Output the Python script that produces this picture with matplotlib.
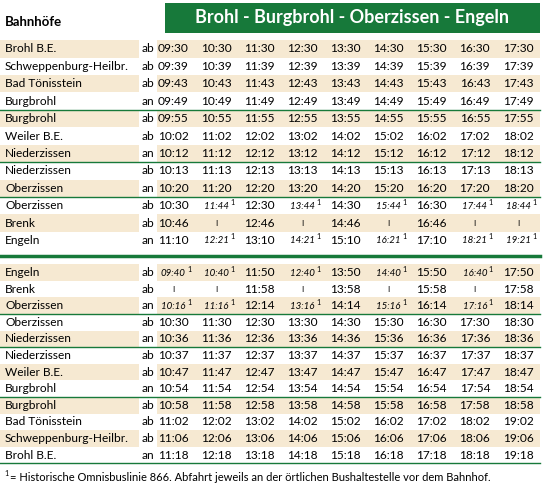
import matplotlib
matplotlib.use("Agg")
import matplotlib.pyplot as plt
from matplotlib.patches import Rectangle

title = "Brohl - Burgbrohl - Oberzissen - Engeln"
header = "Bahnhöfe"
footnote = "= Historische Omnisbuslinie 866. Abfahrt jeweils an der örtlichen Bushaltestelle vor dem Bahnhof."

top_stations = ["Brohl B.E.", "Schweppenburg-Heilbr.", "Bad Tönisstein", "Burgbrohl", "Burgbrohl",
                "Weiler B.E.", "Niederzissen", "Niederzissen", "Oberzissen", "Oberzissen", "Brenk", "Engeln"]
top_dir = ["ab", "ab", "ab", "an", "ab", "ab", "an", "ab", "an", "ab", "ab", "an"]
top_times = [
    ["09:30", "10:30", "11:30", "12:30", "13:30", "14:30", "15:30", "16:30", "17:30"],
    ["09:39", "10:39", "11:39", "12:39", "13:39", "14:39", "15:39", "16:39", "17:39"],
    ["09:43", "10:43", "11:43", "12:43", "13:43", "14:43", "15:43", "16:43", "17:43"],
    ["09:49", "10:49", "11:49", "12:49", "13:49", "14:49", "15:49", "16:49", "17:49"],
    ["09:55", "10:55", "11:55", "12:55", "13:55", "14:55", "15:55", "16:55", "17:55"],
    ["10:02", "11:02", "12:02", "13:02", "14:02", "15:02", "16:02", "17:02", "18:02"],
    ["10:12", "11:12", "12:12", "13:12", "14:12", "15:12", "16:12", "17:12", "18:12"],
    ["10:13", "11:13", "12:13", "13:13", "14:13", "15:13", "16:13", "17:13", "18:13"],
    ["10:20", "11:20", "12:20", "13:20", "14:20", "15:20", "16:20", "17:20", "18:20"],
    ["10:30", "11:44*", "12:30", "13:44*", "14:30", "15:44*", "16:30", "17:44*", "18:44*"],
    ["10:46", "|", "12:46", "|", "14:46", "|", "16:46", "|", "|"],
    ["11:10", "12:21*", "13:10", "14:21*", "15:10", "16:21*", "17:10", "18:21*", "19:21*"],
]
top_lines_after = [3, 6, 8]

bot_stations = ["Engeln", "Brenk", "Oberzissen", "Oberzissen", "Niederzissen", "Niederzissen",
                "Weiler B.E.", "Burgbrohl", "Burgbrohl", "Bad Tönisstein", "Schweppenburg-Heilbr.", "Brohl B.E."]
bot_dir = ["ab", "ab", "an", "ab", "an", "ab", "ab", "an", "ab", "ab", "ab", "an"]
bot_times = [
    ["09:40*", "10:40*", "11:50", "12:40*", "13:50", "14:40*", "15:50", "16:40*", "17:50"],
    ["|", "|", "11:58", "|", "13:58", "|", "15:58", "|", "17:58"],
    ["10:16*", "11:16*", "12:14", "13:16*", "14:14", "15:16*", "16:14", "17:16*", "18:14"],
    ["10:30", "11:30", "12:30", "13:30", "14:30", "15:30", "16:30", "17:30", "18:30"],
    ["10:36", "11:36", "12:36", "13:36", "14:36", "15:36", "16:36", "17:36", "18:36"],
    ["10:37", "11:37", "12:37", "13:37", "14:37", "15:37", "16:37", "17:37", "18:37"],
    ["10:47", "11:47", "12:47", "13:47", "14:47", "15:47", "16:47", "17:47", "18:47"],
    ["10:54", "11:54", "12:54", "13:54", "14:54", "15:54", "16:54", "17:54", "18:54"],
    ["10:58", "11:58", "12:58", "13:58", "14:58", "15:58", "16:58", "17:58", "18:58"],
    ["11:02", "12:02", "13:02", "14:02", "15:02", "16:02", "17:02", "18:02", "19:02"],
    ["11:06", "12:06", "13:06", "14:06", "15:06", "16:06", "17:06", "18:06", "19:06"],
    ["11:18", "12:18", "13:18", "14:18", "15:18", "16:18", "17:18", "18:18", "19:18"],
]
bot_lines_after = [2, 4, 7, 11]

GREEN = "#17793a"
BEIGE = "#f6e9d2"
FONT = "Lato"
FS = 8.6

fig = plt.figure(figsize=(5.45, 4.9), dpi=100)
ax = fig.add_axes([0, 0, 1, 1])
ax.set_xlim(0, 545)
ax.set_ylim(490, 0)
ax.axis("off")

ax.add_patch(Rectangle((165, 3), 375, 30, color=GREEN, lw=0))
ax.text(352, 18, title, color="white", fontsize=13, fontweight="bold", ha="center", va="center", family=FONT)
ax.text(5, 22, header, fontsize=9.5, fontweight="bold", ha="left", va="center", family=FONT)

col_x = [173 + i * (518 - 173) / 8 for i in range(9)]

def draw_section(stations, dirs, times, lines_after, y0, step):
    for r, (st, d, row) in enumerate(zip(stations, dirs, times)):
        y = y0 + r * step
        if r % 2 == 0:
            ax.add_patch(Rectangle((0, y - step / 2), 139, step, color=BEIGE, lw=0))
            ax.add_patch(Rectangle((157, y - step / 2), 383, step, color=BEIGE, lw=0))
        ax.text(5, y, st, fontsize=FS, ha="left", va="center", family=FONT)
        ax.text(142, y, d, fontsize=FS, ha="left", va="center", family=FONT)
        for x, t in zip(col_x, row):
            if t.endswith("*"):
                ax.text(x, y + 0.5, t[:-1], fontsize=7.0, style="italic", ha="center", va="center", family=FONT)
                ax.text(x + 14, y - 3.5, "1", fontsize=5.2, ha="left", va="center", family=FONT)
            elif t == "|":
                ax.text(x, y, "I", fontsize=6, ha="center", va="center", family=FONT)
            else:
                ax.text(x, y, t, fontsize=FS, ha="center", va="center", family=FONT)
        if r in lines_after:
            ax.plot([0, 540], [y + step / 2, y + step / 2], color=GREEN, lw=1)

draw_section(top_stations, top_dir, top_times, top_lines_after, 49, 17.4)
ax.plot([0, 540], [256, 256], color=GREEN, lw=2.5)
draw_section(bot_stations, bot_dir, bot_times, bot_lines_after, 272.5, 16.6)

ax.text(4, 473, "1", fontsize=5.2, ha="left", va="center", family=FONT)
ax.text(10, 477, footnote, fontsize=8.0, ha="left", va="center", family=FONT)

fig.savefig("out.png", dpi=100)
